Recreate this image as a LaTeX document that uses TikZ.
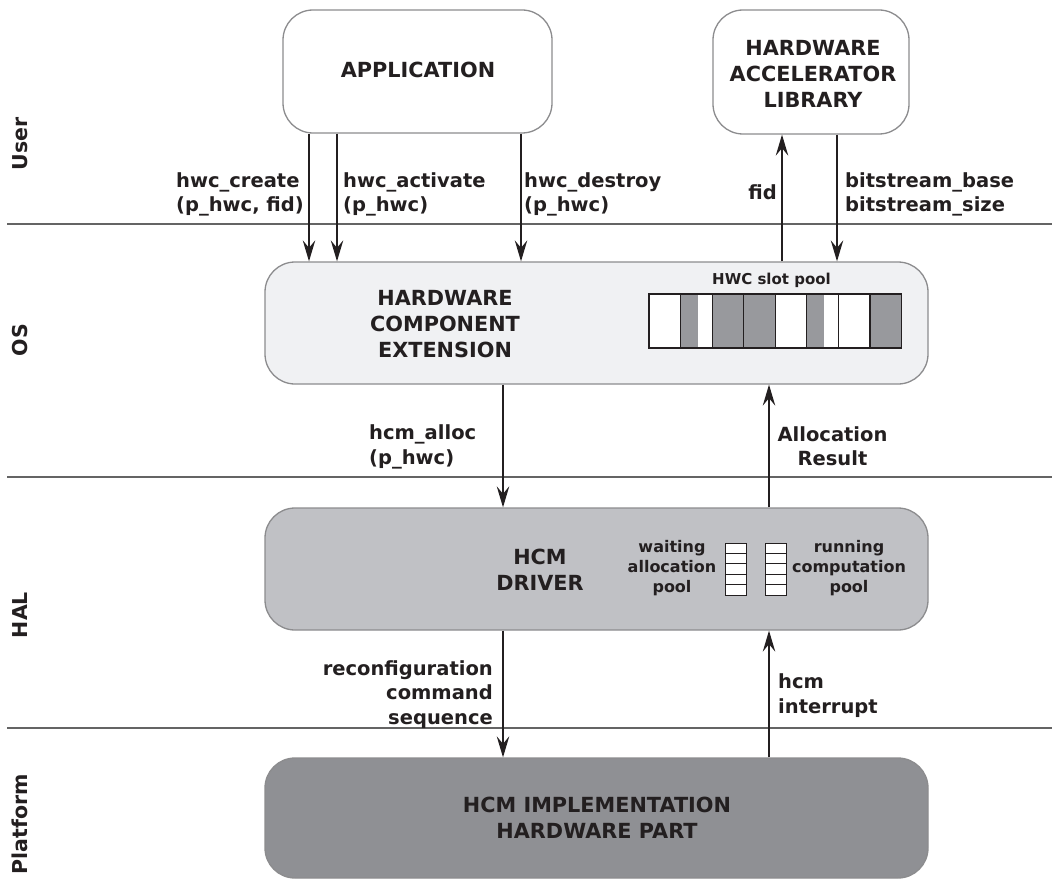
\documentclass[tikz,border=0pt]{standalone}
\usepackage{fontspec}
\setmainfont{DejaVu Sans}
\usetikzlibrary{arrows.meta}

\definecolor{ink}{RGB}{35,31,32}
\definecolor{rim}{RGB}{140,140,142}
\definecolor{rule}{RGB}{100,100,100}
\definecolor{osfill}{RGB}{240,241,243}
\definecolor{halfill}{RGB}{192,193,197}
\definecolor{hwfill}{RGB}{143,144,148}
\definecolor{slotgray}{RGB}{152,153,157}

\tikzset{
  box/.style={draw=rim, line width=1.3pt, rounded corners=30pt, inner sep=0pt},
  sepline/.style={draw=rule, line width=1.5pt},
  arr/.style={draw=ink, line width=1.3pt, -{Stealth[length=21pt,width=12.5pt,inset=7.5pt]}},
  lbl/.style={text=ink, inner sep=0pt, font=\fontsize{19.5}{24.5}\selectfont\bfseries},
  boxtitle/.style={text=ink, inner sep=0pt, align=center, font=\fontsize{20.8}{26}\selectfont\bfseries},
  poolnote/.style={text=ink, inner sep=0pt, align=center, font=\fontsize{16}{20}\selectfont\bfseries},
  slotnote/.style={text=ink, inner sep=0pt, align=center, font=\fontsize{15}{18}\selectfont\bfseries},
  layer/.style={text=ink, inner sep=0pt, rotate=90, font=\fontsize{20.5}{24}\selectfont\bfseries},
  cell/.style={draw=ink, line width=1.2pt},
}

\begin{document}
\begin{tikzpicture}[x=1pt,y=-1pt]
\useasboundingbox (0,0) rectangle (1052,880);

% layer separators
\draw[sepline] (7,224) -- (1052,224);
\draw[sepline] (7,477) -- (1052,477);
\draw[sepline] (7,728) -- (1052,728);

% layer names
\node[layer] (luser) at (20,144) {User};
\node[layer] (los)   at (20,340) {OS};
\node[layer] (lhal)  at (20,615) {HAL};
\node[layer] (lplat) at (20,824) {Platform};

% component boxes
\node[box, fill=white, minimum width=269pt, minimum height=123pt] (app) at (417.5,71.5) {};
\node[box, fill=white, minimum width=196pt, minimum height=124pt] (lib) at (811,72) {};
\node[box, fill=osfill, minimum width=663pt, minimum height=122pt] (hce) at (596.5,323) {};
\node[box, fill=halfill, minimum width=663pt, minimum height=122pt] (drv) at (596.5,569) {};
\node[box, fill=hwfill, minimum width=663pt, minimum height=120pt] (impl) at (596.5,818) {};

% box titles
\node[boxtitle] (tapp) at (418,69.8) {APPLICATION};
\node[boxtitle] (tlib) at (813,73.6) {HARDWARE\\ACCELERATOR\\LIBRARY};
\node[boxtitle] (thce) at (445,324.5) {HARDWARE\\COMPONENT\\EXTENSION};
\node[boxtitle] (tdrv) at (540,569.4) {HCM\\DRIVER};
\node[boxtitle] (timpl) at (597,818) {HCM IMPLEMENTATION\\HARDWARE PART};

% HWC slot pool: eight slots, some partly or fully occupied
\node[slotnote] (tpool) at (771.5,280.3) {HWC slot pool};
\fill[white] (649,294) rectangle (901.5,348);
\fill[slotgray] (681,294) rectangle (698,348);
\fill[slotgray] (712.5,294) rectangle (775.5,348);
\fill[slotgray] (807,294) rectangle (824,348);
\fill[slotgray] (870,294) rectangle (901.5,348);
\foreach \i in {0,...,7}
  \draw[cell] ({649+31.56*\i},294) rectangle ({649+31.56*(\i+1)},348);

% driver queues
\node[poolnote] (twait) at (672,568.5) {waiting\\allocation\\pool};
\node[poolnote] (trun)  at (849,568.5) {running\\computation\\pool};
\foreach \i in {0,...,4} {
  \draw[cell, fill=white, line width=1pt] (725,{543+10.4*\i}) rectangle (746,{543+10.4*(\i+1)});
  \draw[cell, fill=white, line width=1pt] (765,{543+10.4*\i}) rectangle (786,{543+10.4*(\i+1)});
}

% connector columns
\coordinate (xc) at (309,0);
\coordinate (xa) at (337,0);
\coordinate (xd) at (521,0);
\coordinate (xf) at (782,0);
\coordinate (xb) at (837,0);
\coordinate (xl) at (503,0);
\coordinate (xr) at (769,0);

% connectors
\draw[arr] (app.south -| xc) -- (hce.north -| xc);
\draw[arr] (app.south -| xa) -- (hce.north -| xa);
\draw[arr] (app.south -| xd) -- (hce.north -| xd);
\draw[arr] (hce.north -| xf) -- (lib.south -| xf);
\draw[arr] (lib.south -| xb) -- (hce.north -| xb);
\draw[arr] (hce.south -| xl) -- (drv.north -| xl);
\draw[arr] (drv.north -| xr) -- (hce.south -| xr);
\draw[arr] (drv.south -| xl) -- (impl.north -| xl);
\draw[arr] (impl.north -| xr) -- (drv.south -| xr);

% connector labels
\node[lbl, align=left, anchor=west] (lcreate) at (176,194.4) {hwc\_create\\(p\_hwc, fid)};
\node[lbl, align=left, anchor=west] (lact) at (343,194.4) {hwc\_activate\\(p\_hwc)};
\node[lbl, align=left, anchor=west] (ldes) at (524,194.4) {hwc\_destroy\\(p\_hwc)};
\node[lbl, anchor=east] (lfid) at (777,192.6) {fid};
\node[lbl, align=left, anchor=west] (lbit) at (845,194.2) {bitstream\_base\\bitstream\_size};
\node[lbl, align=left, anchor=west] (lalloc) at (369,447) {hcm\_alloc\\(p\_hwc)};
\node[lbl, align=center] (lres) at (832.5,446) {Allocation\\Result};
\node[lbl, align=right, anchor=east] (lrec) at (493,694.5) {reconfiguration\\command\\sequence};
\node[lbl, align=left, anchor=west] (lirq) at (778,695.5) {hcm\\interrupt};
\end{tikzpicture}
\end{document}
